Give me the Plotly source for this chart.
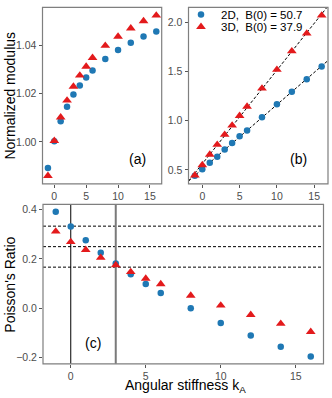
import numpy as np
import plotly.graph_objects as go

# angular stiffness values (shared x for all panels)
k_a = [-1, 0, 1, 2, 3, 4, 5, 6, 8, 10, 12, 14, 16]

# (a) normalized modulus
mod_2d = [0.9892, 1.0003, 1.0086, 1.0146, 1.0196, 1.0234, 1.0267, 1.0296,
          1.0343, 1.0380, 1.0410, 1.0436, 1.0457]
mod_3d = [0.9860, 1.0005, 1.0102, 1.0172, 1.0229, 1.0275, 1.0312, 1.0348,
          1.0398, 1.0436, 1.0470, 1.0500, 1.0523]

# (b) normalized bulk modulus
bulk_2d = [0.440, 0.506, 0.573, 0.634, 0.707, 0.775, 0.842, 0.902,
           1.036, 1.167, 1.295, 1.422, 1.552]
bulk_3d = [0.445, 0.550, 0.657, 0.757, 0.858, 0.953, 1.050, 1.144,
           1.328, 1.519, 1.707, 1.888, 2.070]

# (c) Poisson's ratio
nu_2d = [0.392, 0.332, 0.276, 0.225, 0.181, 0.138, 0.098, 0.062,
         0.000, -0.060, -0.111, -0.157, -0.197]
nu_3d = [0.312, 0.269, 0.237, 0.205, 0.175, 0.147, 0.120, 0.098,
         0.051, 0.011, -0.027, -0.063, -0.096]

nu_refs = [1 / 3, 1 / 4, 1 / 6]
k_marks = [0, 3]

label_2d = "2D,&nbsp; B(0) = 50.7"
label_3d = "3D,&nbsp; B(0) = 37.9"
x_ticks = [0, 5, 10, 15]

BLUE = "#1f78b4"
RED = "#e31a1c"
FONT = "Liberation Sans, Arial, sans-serif"
W, H = 332, 398


def expand(vals, frac=0.05):
    lo, hi = min(vals), max(vals)
    pad = (hi - lo) * frac
    return [lo - pad, hi + pad]


def px_x(a, b):
    return [a / W, b / W]


def px_y(top, bottom):
    return [1 - bottom / H, 1 - top / H]


x_range = expand(k_a)

fig = go.Figure()

circle = dict(color=BLUE, size=6.5, symbol="circle")
tri = dict(color=RED, size=8.5, symbol="triangle-up")

# panel (a)
fig.add_trace(go.Scatter(x=k_a, y=mod_2d, mode="markers", marker=circle,
                         xaxis="x", yaxis="y", showlegend=False))
fig.add_trace(go.Scatter(x=k_a, y=mod_3d, mode="markers", marker=tri,
                         xaxis="x", yaxis="y", showlegend=False))

# panel (b) with linear fits
for vals in (bulk_2d, bulk_3d):
    slope, icpt = np.polyfit(k_a, vals, 1)
    xs = np.array(x_range)
    fig.add_trace(go.Scatter(x=xs, y=slope * xs + icpt, mode="lines",
                             line=dict(color="black", width=1, dash="3px,2px"),
                             xaxis="x2", yaxis="y2", showlegend=False,
                             hoverinfo="skip"))
fig.add_trace(go.Scatter(x=k_a, y=bulk_2d, mode="markers", marker=circle,
                         xaxis="x2", yaxis="y2", name=label_2d, legend="legend"))
fig.add_trace(go.Scatter(x=k_a, y=bulk_3d, mode="markers", marker=tri,
                         xaxis="x2", yaxis="y2", name=label_3d, legend="legend2"))

# panel (c)
fig.add_trace(go.Scatter(x=k_a, y=nu_2d, mode="markers", marker=circle,
                         xaxis="x3", yaxis="y3", showlegend=False))
fig.add_trace(go.Scatter(x=k_a, y=nu_3d, mode="markers", marker=tri,
                         xaxis="x3", yaxis="y3", showlegend=False))

shapes = []
for v in nu_refs:
    shapes.append(dict(type="line", xref="x3 domain", yref="y3", x0=0, x1=1,
                       y0=v, y1=v, line=dict(color="black", width=1, dash="3px,2px"),
                       layer="below"))
shapes.append(dict(type="line", xref="x3", yref="y3 domain", x0=k_marks[0], x1=k_marks[0],
                   y0=0, y1=1, line=dict(color="black", width=1), layer="below"))
shapes.append(dict(type="line", xref="x3", yref="y3 domain", x0=k_marks[1], x1=k_marks[1],
                   y0=0, y1=1, line=dict(color="#7a7a7a", width=2), layer="below"))
for ax in ("", "2", "3"):
    shapes.append(dict(type="rect", xref=f"x{ax} domain", yref=f"y{ax} domain",
                       x0=0, x1=1, y0=0, y1=1, line=dict(color="#7f7f7f", width=1.2)))

axis_common = dict(showgrid=False, zeroline=False, showline=False,
                   ticks="outside", ticklen=3, tickwidth=1, tickcolor="#555555",
                   tickfont=dict(size=10.5, color="#4d4d4d", family=FONT))

legend_common = dict(xanchor="left", yanchor="middle", bgcolor="rgba(0,0,0,0)",
                     font=dict(size=11.5, family=FONT), itemwidth=30)

fig.update_layout(
    width=W, height=H,
    margin=dict(l=0, r=0, t=0, b=0),
    paper_bgcolor="white", plot_bgcolor="white",
    font=dict(family=FONT, color="black"),
    xaxis=dict(domain=px_x(42.5, 161.7), range=x_range, tickvals=x_ticks,
               anchor="y", **axis_common),
    yaxis=dict(domain=px_y(3.5, 181.7), range=expand(mod_2d + mod_3d),
               tickvals=[1.00, 1.02, 1.04], tickformat=".2f", anchor="x",
               **axis_common),
    xaxis2=dict(domain=px_x(188.5, 328), range=x_range, tickvals=x_ticks,
                anchor="y2", **axis_common),
    yaxis2=dict(domain=px_y(3.5, 181.7), range=expand(bulk_2d + bulk_3d),
                tickvals=[0.5, 1.0, 1.5, 2.0], tickformat=".1f", anchor="x2",
                **axis_common),
    xaxis3=dict(domain=px_x(43, 323.5), range=x_range, tickvals=x_ticks,
                anchor="y3", **axis_common),
    yaxis3=dict(domain=px_y(202.5, 363.5), range=expand(nu_2d + nu_3d),
                tickvals=[-0.2, 0.0, 0.2, 0.4], tickformat=".1f", anchor="x3",
                **axis_common),
    shapes=shapes,
    legend=dict(x=181 / W, y=1 - 10.5 / H, **legend_common),
    legend2=dict(x=181 / W, y=1 - 23 / H, **legend_common),
    showlegend=True,
)

annots = [
    dict(text="(a)", x=137 / W, y=1 - 157 / H, size=14),
    dict(text="(b)", x=298 / W, y=1 - 157 / H, size=14),
    dict(text="(c)", x=93 / W, y=1 - 342 / H, size=14),
    dict(text="Normalized modulus", x=10.5 / W, y=1 - 93 / H, size=14, angle=-90),
    dict(text="Poisson's Ratio", x=10.5 / W, y=1 - 284 / H, size=14, angle=-90),
]
for a in annots:
    fig.add_annotation(text=a["text"], x=a["x"], y=a["y"], xref="paper", yref="paper",
                       showarrow=False, xanchor="center", yanchor="middle",
                       textangle=a.get("angle", 0),
                       font=dict(size=a["size"], family=FONT, color="black"))

# x title for (c), anchored by its bottom edge so it clears the tick labels
fig.add_annotation(text="Angular stiffness k<sub>A</sub>", x=185.5 / W, y=0,
                   xref="paper", yref="paper", showarrow=False,
                   xanchor="center", yanchor="bottom", yshift=1,
                   font=dict(size=14, family=FONT, color="black"))

# the page body has a default margin; remove it so the figure fills the window
fig.write_html("out.html", config={"displayModeBar": False},
               post_script="document.body.style.margin = '0';")
